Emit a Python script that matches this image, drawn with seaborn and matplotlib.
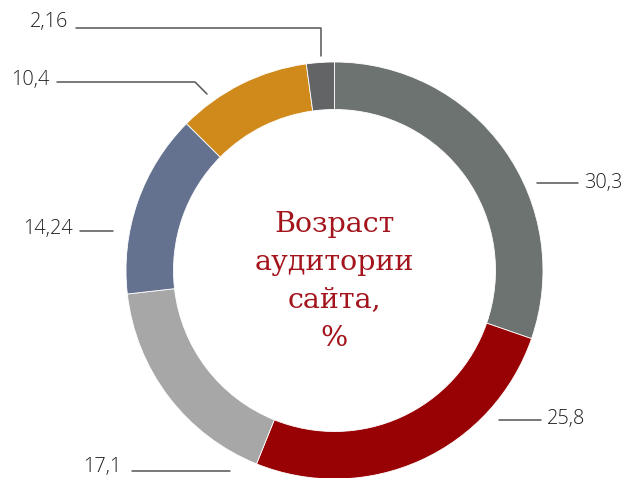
import matplotlib
matplotlib.use("Agg")
import matplotlib.pyplot as plt
import seaborn as sns

values = [30.3, 25.8, 17.1, 14.24, 10.4, 2.16]
labels = ["30,3", "25,8", "17,1", "14,24", "10,4", "2,16"]
colors = ["#6d7371", "#990204", "#a7a7a7", "#65728f", "#d08a1c", "#636466"]
title_lines = ["Возраст", "аудитории", "сайта,", "%"]

sns.set_theme(style="white")
plt.rcParams['font.family'] = ['DejaVu Sans']

W, H = 628, 478
fig = plt.figure(figsize=(W / 100, H / 100), dpi=100)
ax = fig.add_axes([0, 0, 1, 1])

cx, cy = 334.5, H - 270.5
R = 208.5
ax.pie(values, colors=colors, startangle=90, counterclock=False,
       radius=R, center=(cx, cy), frame=True,
       wedgeprops=dict(width=47.5, edgecolor='white', linewidth=0.6))
ax.set_xlim(0, W)
ax.set_ylim(0, H)
ax.set_aspect('equal')
ax.axis('off')

def py(y):
    return H - y

lc = "#555555"
lw = 1.1
lab_kw = dict(fontsize=14.3, color="#222222", va='center', fontfamily='Open Sans',
              fontweight='light')

# 30,3
ax.plot([537, 578], [py(183), py(183)], color=lc, lw=lw)
ax.text(584, py(183), labels[0], ha='left', **lab_kw)
# 25,8
ax.plot([499, 541], [py(420), py(420)], color=lc, lw=lw)
ax.text(547, py(419), labels[1], ha='left', **lab_kw)
# 17,1
ax.plot([132, 230], [py(471), py(471)], color=lc, lw=lw)
ax.text(121, py(467), labels[2], ha='right', **lab_kw)
# 14,24
ax.plot([80, 113], [py(231), py(231)], color=lc, lw=lw)
ax.text(73, py(229), labels[3], ha='right', **lab_kw)
# 10,4
ax.plot([57, 195, 207], [py(82), py(82), py(94)], color=lc, lw=lw)
ax.text(49, py(80), labels[4], ha='right', **lab_kw)
# 2,16
ax.plot([76, 321, 321], [py(28), py(28), py(56)], color=lc, lw=lw)
ax.text(68, py(22), labels[5], ha='right', **lab_kw)

title_y = [224, 262, 300, 338]
for t, y in zip(title_lines, title_y):
    ax.text(cx, py(y), t, ha='center', va='center', fontsize=20.5,
            color="#a3141c", fontfamily='DejaVu Serif')

fig.savefig("out.png", dpi=100)
